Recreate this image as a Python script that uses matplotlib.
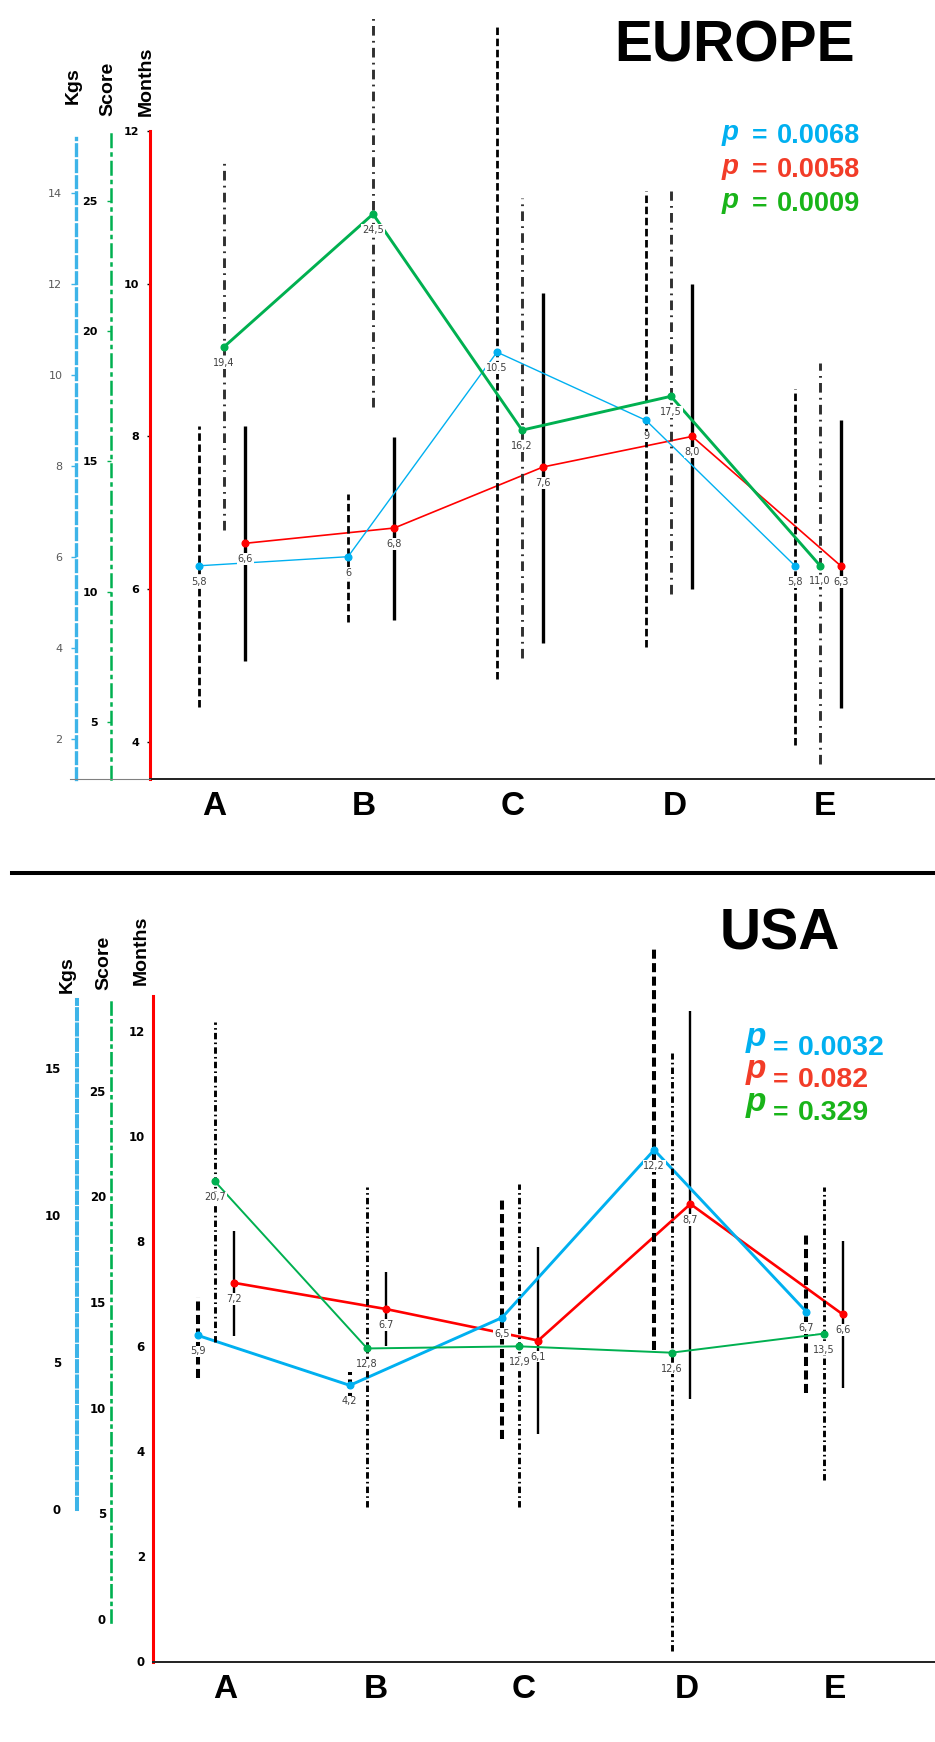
"""
 EUROPE / USA : kgs, score, months by group
"""
import matplotlib.pyplot as plt
import numpy as np
from matplotlib.lines import Line2D

W, H = 935, 1742

cats = ['A', 'B', 'C', 'D', 'E']

# EUROPE
eu_kgs = [5.8, 6.0, 10.5, 9.0, 5.8]
eu_kgs_lo = [2.69, 4.57, 3.30, 4.02, 1.86]
eu_kgs_hi = [8.87, 7.38, 17.71, 14.04, 9.68]
eu_score = [19.4, 24.5, 16.2, 17.5, 11.0]
eu_score_lo = [12.37, 17.08, 7.44, 9.91, 3.38]
eu_score_hi = [26.61, 32.1, 25.1, 25.38, 18.77]
eu_months = [6.6, 6.8, 7.6, 8.0, 6.3]
eu_months_lo = [5.06, 5.60, 5.30, 6.0, 4.44]
eu_months_hi = [8.14, 7.99, 9.88, 9.99, 8.22]
eu_kgs_lbl = ['5,8', '6', '10.5', '9', '5,8']
eu_score_lbl = ['19,4', '24,5', '16,2', '17,5', '11,0']
eu_months_lbl = ['6,6', '6,8', '7,6', '8,0', '6,3']
eu_p = ['0.0068', '0.0058', '0.0009']
eu_kgs_ticks = [2, 4, 6, 8, 10, 12, 14]
eu_score_ticks = [5, 10, 15, 20, 25]
eu_months_ticks = [4, 6, 8, 10, 12]

# USA
us_kgs = [5.9, 4.2, 6.5, 12.2, 6.7]
us_kgs_lo = [4.44, 3.65, 2.38, 5.40, 3.93]
us_kgs_hi = [7.21, 4.67, 10.61, 19.05, 9.37]
us_score = [20.7, 12.8, 12.9, 12.6, 13.5]
us_score_lo = [13.12, 5.30, 5.30, -1.51, 6.58]
us_score_hi = [28.25, 20.45, 20.58, 26.76, 20.45]
us_months = [7.2, 6.7, 6.1, 8.7, 6.6]
us_months_lo = [6.19, 5.99, 4.33, 4.99, 5.19]
us_months_hi = [8.19, 7.40, 7.89, 12.37, 8.0]
us_kgs_lbl = ['5,9', '4,2', '6,5', '12,2', '6,7']
us_score_lbl = ['20,7', '12,8', '12,9', '12,6', '13,5']
us_months_lbl = ['7,2', '6.7', '6,1', '8,7', '6,6']
us_p = ['0.0032', '0.082', '0.329']
us_kgs_ticks = [0, 5, 10, 15]
us_score_ticks = [0, 5, 10, 15, 20, 25]
us_months_ticks = [0, 2, 4, 6, 8, 10, 12]

BLUE = '#00B0F0'
RED = '#FF0000'
GREEN = '#00B050'
P_COL = ['#00B0F0', '#F23C28', '#19B419']

fig = plt.figure(figsize=(W / 100, H / 100), dpi=100)


def fx(x):
    return x / W


def fy(y):
    return 1 - y / H


def panel(st, kgs, score, months, lbls, ticks):
    l, t, r, b = st['box']
    ax = fig.add_axes([fx(l), fy(b), (r - l) / W, (b - t) / H])
    axk = ax.twinx()
    axs = ax.twinx()
    x = np.arange(len(cats))

    ax.set_xlim(st['xlim'])
    ax.set_ylim(st['ylim_m'])
    axk.set_ylim(st['ylim_k'])
    axs.set_ylim(st['ylim_s'])

    # months axis (main)
    for s in ['top', 'right']:
        ax.spines[s].set_visible(False)
    ax.spines['left'].set_color(RED)
    ax.spines['left'].set_linewidth(2.2)
    ax.spines['bottom'].set_color('#202020')
    ax.spines['bottom'].set_linewidth(1.4)
    ax.set_yticks(ticks[2])
    ax.tick_params(axis='y', length=st['tl'][2], width=1, color='black',
                   pad=st['pad'][2], labelsize=st['fs'], labelcolor='black')
    ax.set_xticks(x + np.array(st['lshift']), cats)
    ax.tick_params(axis='x', length=0, pad=8.5, labelsize=24)
    for lb in ax.get_xticklabels():
        lb.set_fontweight('bold')
        lb.set_family('Liberation Sans')

    # kgs / score axes on the left
    for a, k, col, ls, lw in [(axk, 0, st['kcol'], st['k_ls'], st['k_lw']),
                              (axs, 1, GREEN, st['s_ls'], st['s_lw'])]:
        for s in ['top', 'right', 'bottom']:
            a.spines[s].set_visible(False)
        a.spines['left'].set_visible(True)
        a.spines['left'].set_position(('axes', (st['spx'][k] - l) / (r - l)))
        a.spines['left'].set_color(col)
        a.spines['left'].set_linewidth(lw)
        a.spines['left'].set_linestyle(ls)
        a.spines['left'].set_bounds(*st['bounds'][k])
        a.yaxis.set_ticks_position('left')
        a.set_yticks(ticks[k])
        a.tick_params(axis='y', length=st['tl'][k], width=1, color=col,
                      pad=st['pad'][k], labelsize=st['fs'],
                      labelcolor=st['lblcol'][k])
    for lb in axs.get_yticklabels() + ax.get_yticklabels():
        lb.set_fontweight('bold')
    if st['kbold']:
        for lb in axk.get_yticklabels():
            lb.set_fontweight('bold')

    series = [(axk, kgs, st['off'][0], BLUE, st['lw'][0],
               st['bar_ls'][0], st['bar_lw'][0], 'black'),
              (axs, score, st['off'][1], GREEN, st['lw'][1],
               st['bar_ls'][1], st['bar_lw'][1], st['dd_col']),
              (ax, months, st['off'][2], RED, st['lw'][2],
               st['bar_ls'][2], st['bar_lw'][2], 'black')]
    for a, (v, lo, hi), off, col, lw, bls, blw, bcol in series:
        a.vlines(x + off, lo, hi, colors=bcol, linestyles=bls, lw=blw,
                 clip_on=False, zorder=1)
        a.plot(x + off, v, color=col, lw=lw, marker='o', ms=4.8,
               clip_on=False, zorder=3)

    # value labels, on the top-most axes
    for (a, vals, off), lab in zip([(axk, kgs[0], st['off'][0]),
                                    (axs, score[0], st['off'][1]),
                                    (ax, months[0], st['off'][2])], lbls):
        for xi, v, s in zip(x + off, vals, lab):
            axs.annotate(s, (xi, v), xycoords=a.transData,
                         xytext=(0, -11.5), textcoords='offset points',
                         ha='center', va='center', fontsize=7,
                         color='#404040', annotation_clip=False, zorder=6,
                         bbox=dict(boxstyle='square,pad=0.08', fc='white',
                                   ec='none'))

    # axis titles
    for (tx, tb), name in zip(st['titles'], ['Kgs', 'Score', 'Months']):
        fig.text(fx(tx), fy(tb), name, rotation=90, ha='center', va='bottom',
                 fontsize=14, fontweight='bold', fontstretch='condensed',
                 family=['Liberation Sans Narrow', 'Liberation Sans'])

    # panel title and p values
    fig.text(fx(st['head'][0]), fy(st['head'][1]), st['name'],
             fontsize=41, fontweight='bold', family='Liberation Sans',
             va='baseline')
    for i, (pv, col) in enumerate(zip(st['p'], P_COL)):
        yb = st['p_y'][i]
        fig.text(fx(st['p_x'][0]), fy(yb - st['p_up']), 'p', color=col,
                 fontsize=st['p_fs'], fontweight='bold', fontstyle='italic',
                 family='Liberation Sans', va='baseline')
        fig.text(fx(st['p_x'][1]), fy(yb), '=', color=col, fontsize=19,
                 fontweight='bold', family='Liberation Sans', va='baseline')
        fig.text(fx(st['p_x'][2]), fy(yb), pv, color=col, fontsize=st['n_fs'],
                 fontweight='bold', family='Liberation Sans', va='baseline')
    return ax


eu_style = dict(
    box=(150, 131, 935, 779), xlim=(-0.497, 4.772),
    ylim_m=(3.513, 12.0), ylim_k=(1.11, 15.364), ylim_s=(2.80, 27.69),
    spx=(75.5, 111), bounds=((1.11, 15.2), (2.80, 27.69)),
    kcol='#3DB4E8', k_ls=(0, (3.2, 1.6)), k_lw=2.4,
    s_ls=(0, (5, 2.6, 0.8, 2.6)), s_lw=1.8,
    tl=(3.6, 3, 2), pad=(5.8, 6.5, 5.8), fs=8,
    lblcol=('#595959', 'black'), kbold=False,
    off=(-0.168, 0.0, 0.142), lw=(1.0, 2.1, 1.2),
    bar_ls=((0, (2.7, 1.3)), (0, (3.3, 1.8, 0.6, 1.8)), 'solid'),
    bar_lw=(2.0, 2.1, 2.4), dd_col='#303030',
    lshift=(-0.065, -0.059, -0.06, 0.028, 0.034),
    titles=((73, 104), (108, 116), (146, 116)),
    name='EUROPE', head=(614, 61), p=eu_p,
    p_x=(722, 752, 777), p_y=(143, 177, 211), p_up=3, p_fs=20, n_fs=19.5,
)

us_style = dict(
    box=(153, 996, 935, 1662), xlim=(-0.407, 4.731),
    ylim_m=(-0.02, 12.66), ylim_k=(-5.2, 17.43), ylim_s=(-2.03, 29.47),
    spx=(77, 111), bounds=((0, 17.3), (-0.15, 29.3)),
    kcol='#3DB4E8', k_ls=(0, (2.5, 1.3)), k_lw=2.9,
    s_ls=(0, (4.5, 2.2, 0.7, 2.2)), s_lw=1.9,
    tl=(0, 0, 0), pad=(11.5, 3.6, 5.8), fs=8.5,
    lblcol=('black', 'black'), kbold=True,
    off=(-0.114, 0.0, 0.124), lw=(2.1, 1.4, 1.9),
    bar_ls=((0, (2.25, 1.1)), (0, (2.2, 1.1, 0.55, 1.1)), 'solid'),
    bar_lw=(2.9, 2.1, 1.7), dd_col='black',
    lshift=(0.068, 0.054, 0.03, 0.1, 0.07),
    titles=((67, 993), (104, 990), (141, 985)),
    name='USA', head=(720, 950), p=us_p,
    p_x=(746, 773, 798), p_y=(1055, 1087, 1120), p_up=9, p_fs=24, n_fs=20.5,
)

panel(eu_style,
      (eu_kgs, eu_kgs_lo, eu_kgs_hi),
      (eu_score, eu_score_lo, eu_score_hi),
      (eu_months, eu_months_lo, eu_months_hi),
      [eu_kgs_lbl, eu_score_lbl, eu_months_lbl],
      [eu_kgs_ticks, eu_score_ticks, eu_months_ticks])

panel(us_style,
      (us_kgs, us_kgs_lo, us_kgs_hi),
      (us_score, us_score_lo, us_score_hi),
      (us_months, us_months_lo, us_months_hi),
      [us_kgs_lbl, us_score_lbl, us_months_lbl],
      [us_kgs_ticks, us_score_ticks, us_months_ticks])

# thin base line under the left axes (Europe) and the divider
fig.add_artist(Line2D([fx(70), fx(150)], [fy(779), fy(779)],
                      color='#808080', lw=0.8))
fig.add_artist(Line2D([fx(12), fx(935)], [fy(873), fy(873)],
                      color='black', lw=2.9))

fig.savefig('out.png', dpi=100)
